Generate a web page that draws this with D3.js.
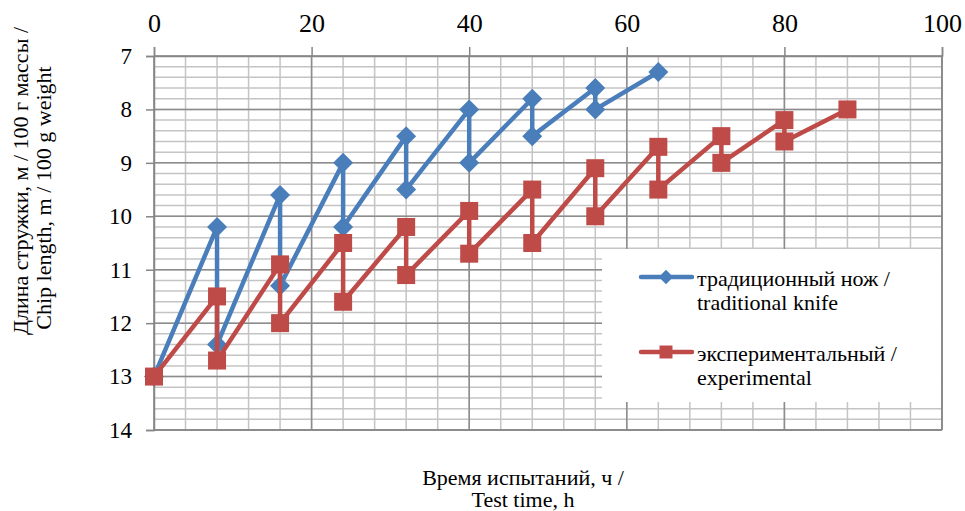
<!DOCTYPE html>
<html>
<head>
<meta charset="utf-8">
<script src="https://cdn.jsdelivr.net/npm/d3@7"></script>
<style>
  body { margin: 0; background: #fff; }
  text { font-family: "Liberation Serif", "Times New Roman", serif; fill: #000; }
</style>
</head>
<body>
<div id="chart"></div>
<script>
// series data (x = test time h, y = chip length)
var tradX = [0, 8, 8, 16, 16, 24, 24, 32, 32, 40, 40, 48, 48, 56, 56, 64];
var tradY = [13, 10.2, 12.4, 9.6, 11.3, 9.0, 10.2, 8.5, 9.5, 8.0, 9.0, 7.8, 8.5, 7.6, 8.0, 7.3];
var expX = [0, 8, 8, 16, 16, 24, 24, 32, 32, 40, 40, 48, 48, 56, 56, 64, 64, 72, 72, 80, 80, 88];
var expY = [13, 11.5, 12.7, 10.9, 12.0, 10.5, 11.6, 10.2, 11.1, 9.9, 10.7, 9.5, 10.5, 9.1, 10.0, 8.7, 9.5, 8.5, 9.0, 8.2, 8.6, 8.0];
var xTicks = [0, 20, 40, 60, 80, 100];
var yTicks = [7, 8, 9, 10, 11, 12, 13, 14];
var legendLabels = [["традиционный нож /", "traditional knife"], ["экспериментальный /", "experimental"]];
var yTitle = ["Длина стружки, м / 100 г массы /", "Chip length, m / 100 g weight"];
var xTitle = ["Время испытаний, ч /", "Test time, h"];

function draw_chart() {
  var W = 965, H = 511;
  var pLeft = 154, pRight = 942, pTop = 56, pBottom = 430;
  var blue = "#4a7ebb", red = "#be4b48";

  var svg = d3.select("#chart").append("svg")
    .attr("width", W).attr("height", H);

  var x = d3.scaleLinear().domain([0, 100]).range([pLeft, pRight]);
  var y = d3.scaleLinear().domain([7, 14]).range([pTop, pBottom]);

  // minor grid
  var g = svg.append("g");
  g.selectAll(null).data(d3.range(7, 14.001, 0.2))
    .enter().append("line")
    .attr("x1", pLeft).attr("x2", pRight)
    .attr("y1", function(d) { return y(d); }).attr("y2", function(d) { return y(d); })
    .attr("stroke", "#c4c4c4").attr("stroke-width", 1.5);
  g.selectAll(null).data(d3.range(0, 100.001, 4))
    .enter().append("line")
    .attr("y1", pTop).attr("y2", pBottom)
    .attr("x1", function(d) { return x(d); }).attr("x2", function(d) { return x(d); })
    .attr("stroke", "#c4c4c4").attr("stroke-width", 1.5);
  // major grid
  g.selectAll(null).data(yTicks)
    .enter().append("line")
    .attr("x1", pLeft).attr("x2", pRight)
    .attr("y1", function(d) { return y(d); }).attr("y2", function(d) { return y(d); })
    .attr("stroke", "#8c8c8c").attr("stroke-width", 1.5);
  g.selectAll(null).data(xTicks)
    .enter().append("line")
    .attr("y1", pTop).attr("y2", pBottom)
    .attr("x1", function(d) { return x(d); }).attr("x2", function(d) { return x(d); })
    .attr("stroke", "#8c8c8c").attr("stroke-width", 1.5);

  // axes
  var xAxis = svg.append("g")
    .attr("transform", "translate(0," + pTop + ")")
    .call(d3.axisTop(x).tickValues(xTicks).tickFormat(d3.format("d")).tickSize(9).tickPadding(15));
  var yAxis = svg.append("g")
    .attr("transform", "translate(" + pLeft + ",0)")
    .call(d3.axisLeft(y).tickValues(yTicks).tickFormat(d3.format("d")).tickSize(8).tickPadding(14));
  [xAxis, yAxis].forEach(function(a) {
    a.attr("font-family", null);
    a.select(".domain").attr("stroke", "#868686").attr("stroke-width", 1.5);
    a.selectAll(".tick line").attr("stroke", "#868686").attr("stroke-width", 1.5);
    a.selectAll(".tick text").attr("font-size", 26).attr("fill", "#000");
  });
  yAxis.selectAll(".tick text").attr("font-size", 23);
  // right and bottom frame
  svg.append("line").attr("x1", pRight).attr("x2", pRight).attr("y1", pTop).attr("y2", pBottom)
    .attr("stroke", "#868686").attr("stroke-width", 1.5);
  svg.append("line").attr("x1", pLeft).attr("x2", pRight).attr("y1", pBottom).attr("y2", pBottom)
    .attr("stroke", "#868686").attr("stroke-width", 1.5);

  // legend box (covers grid)
  svg.append("rect")
    .attr("x", 602).attr("y", 249).attr("width", pRight - 602 - 1).attr("height", 153)
    .attr("fill", "#fff");

  // series
  var line = d3.line()
    .x(function(d) { return x(d[0]); })
    .y(function(d) { return y(d[1]); });

  var series = [
    { pts: d3.zip(tradX, tradY), color: blue, marker: "diamond" },
    { pts: d3.zip(expX, expY), color: red, marker: "square" }
  ];

  function marker(sel, type, color) {
    if (type === "diamond") {
      sel.append("path").attr("d", "M0,-10L10,0L0,10L-10,0Z").attr("fill", color);
    } else {
      sel.append("rect").attr("x", -9).attr("y", -9).attr("width", 18).attr("height", 18).attr("fill", color);
    }
  }

  series.forEach(function(s) {
    svg.append("path")
      .attr("d", line(s.pts))
      .attr("fill", "none")
      .attr("stroke", s.color)
      .attr("stroke-width", 4.5)
      .attr("stroke-linejoin", "round");
    svg.selectAll(null).data(s.pts).enter().append("g")
      .attr("transform", function(d) { return "translate(" + x(d[0]) + "," + y(d[1]) + ")"; })
      .each(function() { marker(d3.select(this), s.marker, s.color); });
  });

  // legend entries
  var ly = [277, 352];
  series.forEach(function(s, i) {
    svg.append("line")
      .attr("x1", 641).attr("x2", 692).attr("y1", ly[i]).attr("y2", ly[i])
      .attr("stroke", s.color).attr("stroke-width", 4.5).attr("stroke-linecap", "round");
    var m = svg.append("g").attr("transform", "translate(666," + ly[i] + ") scale(0.72)");
    marker(m, s.marker, s.color);
    svg.append("text").attr("x", 697).attr("y", ly[i] + 9).attr("font-size", 22).text(legendLabels[i][0]);
    svg.append("text").attr("x", 697).attr("y", ly[i] + 33).attr("font-size", 22).text(legendLabels[i][1]);
  });

  // axis titles
  svg.append("text").attr("x", 523).attr("y", 485).attr("text-anchor", "middle").attr("font-size", 22).text(xTitle[0]);
  svg.append("text").attr("x", 523).attr("y", 507).attr("text-anchor", "middle").attr("font-size", 22).text(xTitle[1]);
  var yCenters = [181, 198];
  yTitle.forEach(function(t, i) {
    svg.append("text")
      .attr("transform", "translate(" + (28 + i * 23) + "," + yCenters[i] + ") rotate(-90)")
      .attr("text-anchor", "middle").attr("font-size", 22).text(t);
  });
}

draw_chart();
</script>
</body>
</html>
